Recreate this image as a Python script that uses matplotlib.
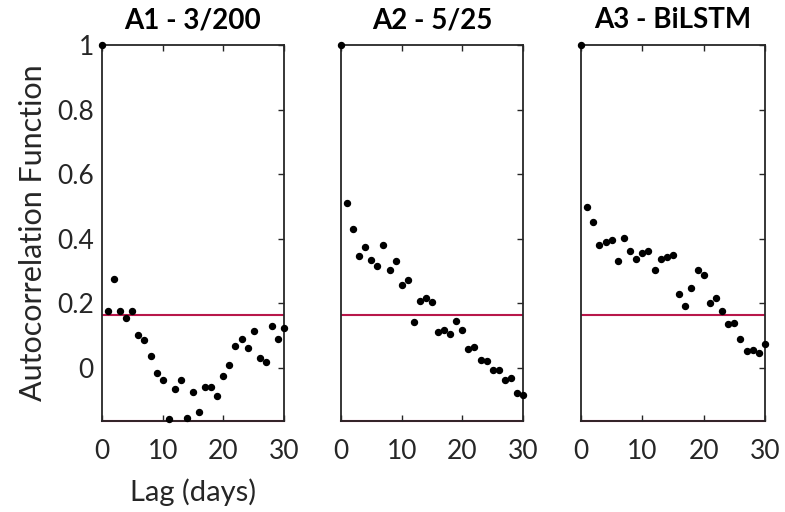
import matplotlib
matplotlib.use("Agg")
import matplotlib.pyplot as plt
import numpy as np

plt.rcParams['font.family'] = ['Lato', 'DejaVu Sans']

lags = list(range(0, 31))
titles = ["A1 - 3/200", "A2 - 5/25", "A3 - BiLSTM"]
acf_a1 = [1.0, 0.175, 0.277, 0.175, 0.154, 0.175, 0.101, 0.088, 0.038, -0.014, -0.038,
          -0.159, -0.064, -0.038, -0.155, -0.073, -0.137, -0.059, -0.059, -0.086, -0.025,
          0.008, 0.068, 0.089, 0.062, 0.114, 0.030, 0.020, 0.130, 0.090, 0.125]
acf_a2 = [1.0, 0.510, 0.429, 0.348, 0.375, 0.333, 0.317, 0.381, 0.304, 0.331, 0.258,
          0.274, 0.144, 0.209, 0.216, 0.204, 0.112, 0.118, 0.104, 0.147, 0.118,
          0.059, 0.064, 0.026, 0.021, -0.005, -0.005, -0.036, -0.031, -0.078, -0.083]
acf_a3 = [1.0, 0.500, 0.451, 0.381, 0.391, 0.396, 0.331, 0.402, 0.362, 0.336, 0.355,
          0.362, 0.304, 0.337, 0.344, 0.351, 0.229, 0.193, 0.248, 0.302, 0.289,
          0.202, 0.216, 0.175, 0.135, 0.138, 0.091, 0.053, 0.055, 0.048, 0.073]
bound = 0.164
yticks = [0, 0.2, 0.4, 0.6, 0.8, 1]
ytick_labels = ["0", "0.2", "0.4", "0.6", "0.8", "1"]
xticks = [0, 10, 20, 30]

W, H = 785, 512
fig = plt.figure(figsize=(W / 100, H / 100), dpi=100)
lefts = [102, 341, 581]
rights = [284, 523, 765]
top_px, bot_px = 45, 421
series = [acf_a1, acf_a2, acf_a3]
axcol = "#262626"
red = "#B8174A"

for i, (l, r) in enumerate(zip(lefts, rights)):
    ax = fig.add_axes([l / W, (H - bot_px) / H, (r - l) / W, (bot_px - top_px) / H])
    ax.axhline(bound, color=red, lw=1.5, zorder=1)
    ax.axhline(-bound, color=red, lw=1.5, zorder=1, clip_on=False)
    ax.plot(lags, series[i], 'o', color='black', markersize=4.3, clip_on=False, zorder=3)
    ax.set_xlim(0, 30)
    ax.set_ylim(-bound, 1)
    ax.set_xticks(xticks)
    ax.set_xticklabels([str(t) for t in xticks])
    ax.set_yticks(yticks)
    if i == 0:
        ax.set_yticklabels(ytick_labels)
        ax.set_ylabel("Autocorrelation Function", fontsize=22, color=axcol, labelpad=7)
        ax.set_xlabel("Lag (days)", fontsize=21, color=axcol, labelpad=10)
    else:
        ax.set_yticklabels([])
    ax.tick_params(direction='in', length=4, width=1, colors=axcol, labelsize=19,
                   top=True, right=True)
    ax.tick_params(axis='x', pad=13)
    ax.tick_params(axis='y', left=False, pad=6)
    for s in ax.spines.values():
        s.set_color(axcol)
        s.set_linewidth(1.3)
    ax.set_title(titles[i], fontsize=20, fontweight='bold', color='black', pad=12)

fig.savefig("out.png", dpi=100)
